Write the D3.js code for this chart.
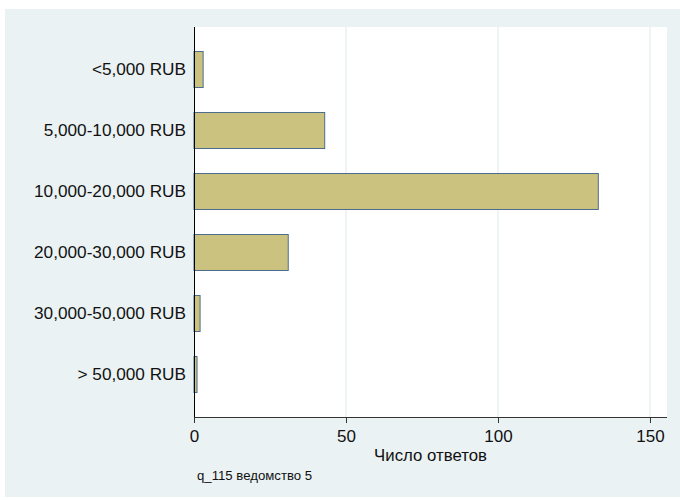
<!DOCTYPE html>
<html><head><meta charset="utf-8">
<script src="https://cdn.jsdelivr.net/npm/d3@7"></script>
<style>body{margin:0;background:#fff}svg{display:block;font-family:"Liberation Sans",Arial,sans-serif}</style>
</head><body><svg id="c" width="680" height="500"></svg>
<script>
const categories = ["<5,000 RUB","5,000-10,000 RUB","10,000-20,000 RUB","20,000-30,000 RUB","30,000-50,000 RUB","> 50,000 RUB"];
const counts = [3, 43, 133, 31, 2, 1];
const xTicks = [0, 50, 100, 150];
const xTitle = "Число ответов";
const note = "q_115 ведомство 5";

const svg = d3.select("#c");
const L = 194, R = 667, T = 27, B = 417;
svg.append("rect").attr("x",5).attr("y",9).attr("width",675).attr("height",488).attr("fill","#EAF2F3");
svg.append("rect").attr("x",L).attr("y",T).attr("width",R-L).attr("height",B-T).attr("fill","#fff");

const x = d3.scaleLinear().domain([0,155.6]).range([L,R]);
const y = d3.scaleBand().domain(categories).range([T+12,B-12]).paddingInner(0.41).paddingOuter(0.205);

svg.append("g").selectAll("line").data(xTicks.filter(d=>d>0)).join("line")
  .attr("x1",d=>x(d)).attr("x2",d=>x(d)).attr("y1",T).attr("y2",B)
  .attr("stroke","#E3ECEF").attr("stroke-width",1.2);

svg.append("g").selectAll("rect").data(counts).join("rect")
  .attr("x",x(0)).attr("y",(d,i)=>y(categories[i]))
  .attr("width",d=>x(d)-x(0)).attr("height",y.bandwidth())
  .attr("fill","#CBC27F").attr("stroke","#4D6D8E").attr("stroke-width",1);

const xa = svg.append("g").attr("transform",`translate(0,${B})`)
  .call(d3.axisBottom(x).tickValues(xTicks).tickSize(6).tickPadding(7).tickSizeOuter(0));
xa.select(".domain").attr("d",`M${L},0.5H${R}`).attr("stroke","#333");
xa.selectAll(".tick line").attr("stroke","#333");
xa.selectAll(".tick text").attr("font-size",17).attr("fill","#111").attr("font-family","Liberation Sans, Arial, sans-serif");

const ya = svg.append("g").attr("transform",`translate(${L},0)`)
  .call(d3.axisLeft(y).tickSize(0).tickPadding(8));
ya.select(".domain").attr("d",`M0.5,${T}V${B}`).attr("stroke","#000");
ya.selectAll(".tick text").attr("font-size",17.2).attr("fill","#111").attr("font-family","Liberation Sans, Arial, sans-serif");

svg.append("text").attr("x",(L+R)/2).attr("y",461).attr("text-anchor","middle")
  .attr("font-size",16.8).attr("fill","#111").text(xTitle);
svg.append("text").attr("x",197).attr("y",480).attr("font-size",13.2).attr("fill","#111").text(note);
</script></body></html>
